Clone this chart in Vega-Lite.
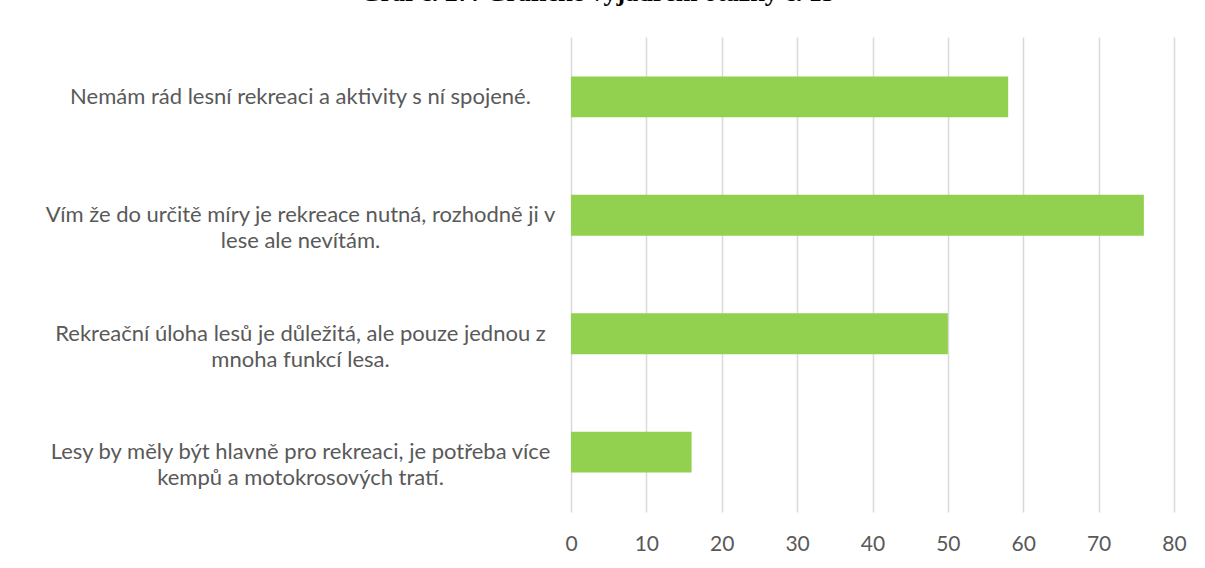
{
  "$schema": "https://vega.github.io/schema/vega-lite/v6.json",
  "width": 603,
  "height": 475,
  "autosize": {"type": "none"},
  "padding": {"left": 571, "top": 37, "right": 31, "bottom": 56},
  "background": "white",
  "title": {
    "text": "Graf č. 27: Grafické vyjádření otázky č. 13",
    "font": "Liberation Serif",
    "fontSize": 26,
    "fontWeight": "bold",
    "color": "#000000",
    "anchor": "middle",
    "frame": "group",
    "dx": -275,
    "baseline": "alphabetic",
    "offset": 10
  },
  "data": {
    "values": [
      {"odpoved": "Nemám rád lesní rekreaci a aktivity s ní spojené.", "pocet": 58},
      {"odpoved": "Vím že do určitě míry je rekreace nutná, rozhodně ji v\nlese ale nevítám.", "pocet": 76},
      {"odpoved": "Rekreační úloha lesů je důležitá, ale pouze jednou z\nmnoha funkcí lesa.", "pocet": 50},
      {"odpoved": "Lesy by měly být hlavně pro rekreaci, je potřeba více\nkempů a motokrosových tratí.", "pocet": 16}
    ]
  },
  "mark": {"type": "bar", "color": "#92d050"},
  "encoding": {
    "y": {
      "field": "odpoved",
      "type": "nominal",
      "sort": null,
      "scale": {"paddingInner": 0.655, "paddingOuter": 0.333},
      "axis": {
        "title": null,
        "domain": false,
        "ticks": false,
        "grid": false,
        "labelAlign": "center",
        "labelBaseline": "middle",
        "labelPadding": 271,
        "labelFont": "Lato",
        "labelFontSize": 22,
        "labelColor": "#595959",
        "labelLineHeight": 26,
        "labelLimit": 0,
        "labelExpr": "split(datum.label, '\\n')"
      }
    },
    "x": {
      "field": "pocet",
      "type": "quantitative",
      "scale": {"domain": [0, 80], "nice": false},
      "axis": {
        "title": null,
        "values": [0, 10, 20, 30, 40, 50, 60, 70, 80],
        "domain": false,
        "ticks": false,
        "grid": true,
        "gridColor": "#d9d9d9",
        "gridWidth": 1.5,
        "labelPadding": 21,
        "labelFont": "Lato",
        "labelFontSize": 21,
        "labelColor": "#595959",
        "labelFlush": false
      }
    }
  },
  "config": {"view": {"stroke": null}}
}
